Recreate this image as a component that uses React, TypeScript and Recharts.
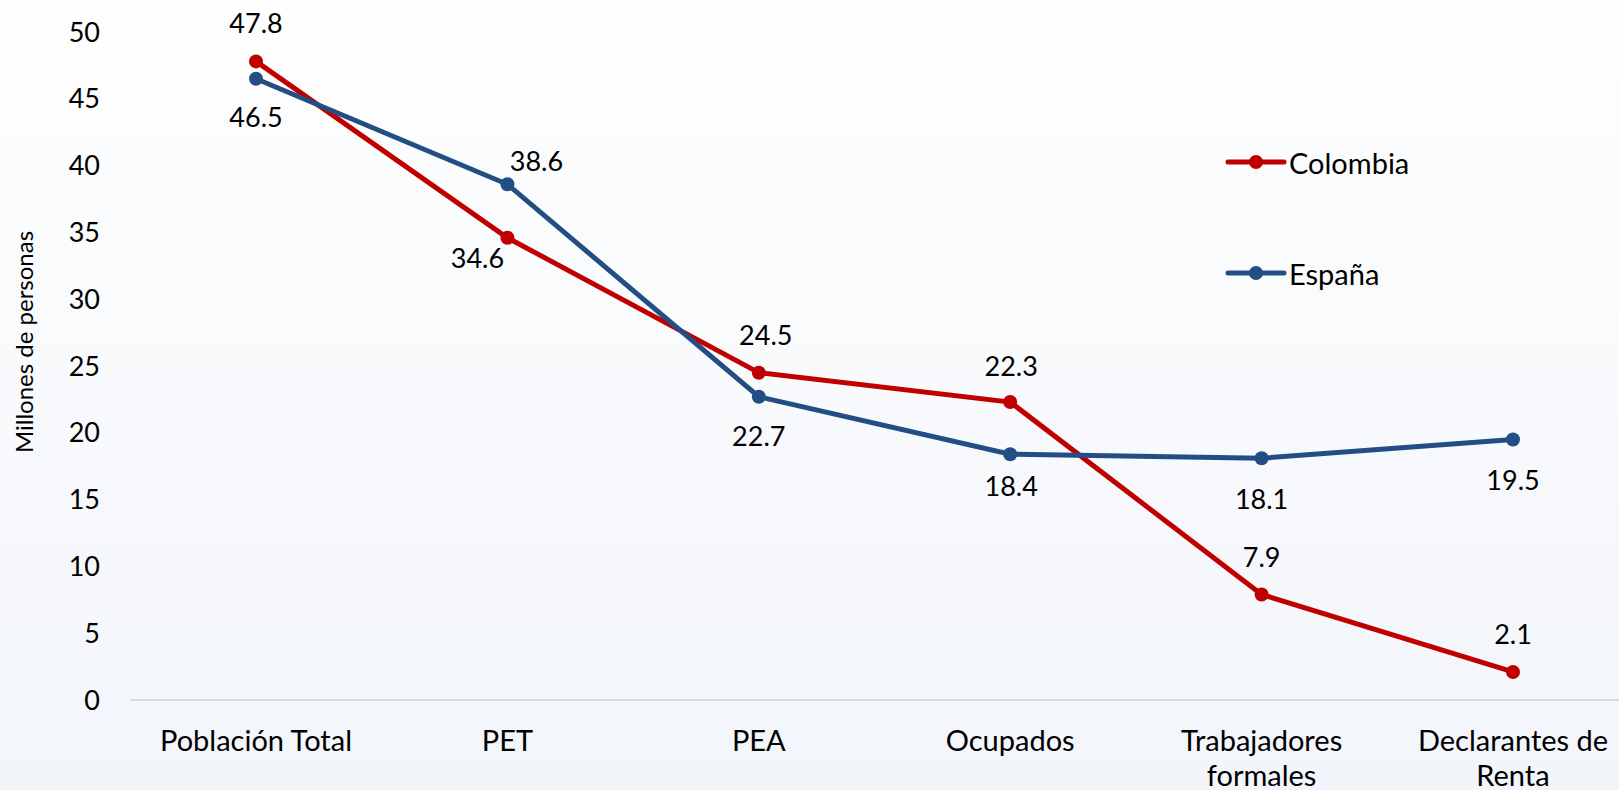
import { LineChart, Line, XAxis, YAxis, LabelList } from 'recharts'

const categories = ['Población Total', 'PET', 'PEA', 'Ocupados', 'Trabajadores formales', 'Declarantes de Renta']
const colombia = [47.8, 34.6, 24.5, 22.3, 7.9, 2.1]
const espana = [46.5, 38.6, 22.7, 18.4, 18.1, 19.5]
const yTicks = [0, 5, 10, 15, 20, 25, 30, 35, 40, 45, 50]

const data = categories.map((name, i) => ({ name, colombia: colombia[i], espana: espana[i] }))

// label offsets (dx, dy) from each point, as placed in the original
const colombiaLabelPos = [[0, -39], [-30, 20], [7, -38], [1, -37], [0, -38], [0, -38]]
const espanaLabelPos = [[0, 38], [29, -24], [0, 39], [1, 31], [0, 40], [0, 40]]

const RED = '#c00000'
const BLUE = '#234e84'
const FONT = 'Lato, "Noto Sans", sans-serif'
const FS = 27
const FS_TEXT = 29

const series = [
  { key: 'colombia', name: 'Colombia', color: RED },
  { key: 'espana', name: 'España', color: BLUE },
]

const makeLabel = (pos: number[][]) => (props: any) => {
  const { x, y, value, index } = props
  const [dx, dy] = pos[index]
  return (
    <text x={x + dx} y={y + dy} textAnchor="middle" dominantBaseline="central" fontSize={FS} fill="#000" fontFamily={FONT}>
      {value}
    </text>
  )
}

const CategoryTick = (props: any) => {
  const { x, y, payload } = props
  const label: string = payload.value
  let lines = [label]
  if (label.length > 16) {
    const cut = label.lastIndexOf(' ')
    lines = [label.slice(0, cut), label.slice(cut + 1)]
  }
  return (
    <text x={x} y={y} textAnchor="middle" fontSize={FS_TEXT} fill="#000" fontFamily={FONT}>
      {lines.map((l, i) => (
        <tspan key={i} x={x} dy={i === 0 ? 43 : 35}>{l}</tspan>
      ))}
    </text>
  )
}

const YLabel = (props: any) => {
  const { viewBox } = props
  const cx = viewBox.x + 23
  const cy = viewBox.y + viewBox.height / 2 - 24
  return (
    <text x={cx} y={cy} transform={`rotate(-90 ${cx} ${cy})`} textAnchor="middle" dominantBaseline="central" fontSize={24} fill="#000" fontFamily={FONT}>
      Millones de personas
    </text>
  )
}

export default function App() {
  return (
    <div
      style={{
        position: 'fixed',
        left: 0,
        top: 0,
        width: 1619,
        height: 790,
        overflow: 'hidden',
        background: 'linear-gradient(to bottom, #fefefe 0%, #f2f5fa 100%)',
      }}
    >
      <LineChart width={1640} height={790} data={data} margin={{ top: 32, right: 1, bottom: 0, left: 0 }}>
        <XAxis
          dataKey="name"
          tick={<CategoryTick />}
          tickLine={false}
          axisLine={{ stroke: '#d9d9d9', strokeWidth: 2 }}
          height={90}
          interval={0}
          padding={{ left: 126, right: 126 }}
        />
        <YAxis
          domain={[0, 50]}
          ticks={yTicks}
          width={130}
          axisLine={false}
          tickLine={false}
          tickSize={6}
          tickMargin={24}
          tick={{ fontSize: FS, fill: '#000', fontFamily: FONT }}
          label={<YLabel />}
        />
        {series.map((s) => (
          <Line
            key={s.key}
            type="linear"
            dataKey={s.key}
            name={s.name}
            stroke={s.color}
            strokeWidth={5}
            dot={{ r: 7, fill: s.color, stroke: s.color, strokeWidth: 0 }}
            isAnimationActive={false}
          >
            <LabelList dataKey={s.key} content={makeLabel(s.key === 'colombia' ? colombiaLabelPos : espanaLabelPos)} />
          </Line>
        ))}
      </LineChart>
      <div style={{ position: 'absolute', left: 1225, top: 141, fontFamily: FONT, fontSize: FS_TEXT }}>
        {series.map((s) => (
          <div key={s.key} style={{ display: 'flex', alignItems: 'center', height: 42, marginBottom: 69 }}>
            <svg width={62} height={16} style={{ marginRight: 2 }}>
              <line x1={3} y1={8} x2={59} y2={8} stroke={s.color} strokeWidth={5} strokeLinecap="round" />
              <circle cx={31} cy={8} r={7} fill={s.color} />
            </svg>
            <span style={{ color: '#000' }}>{s.name}</span>
          </div>
        ))}
      </div>
    </div>
  )
}
